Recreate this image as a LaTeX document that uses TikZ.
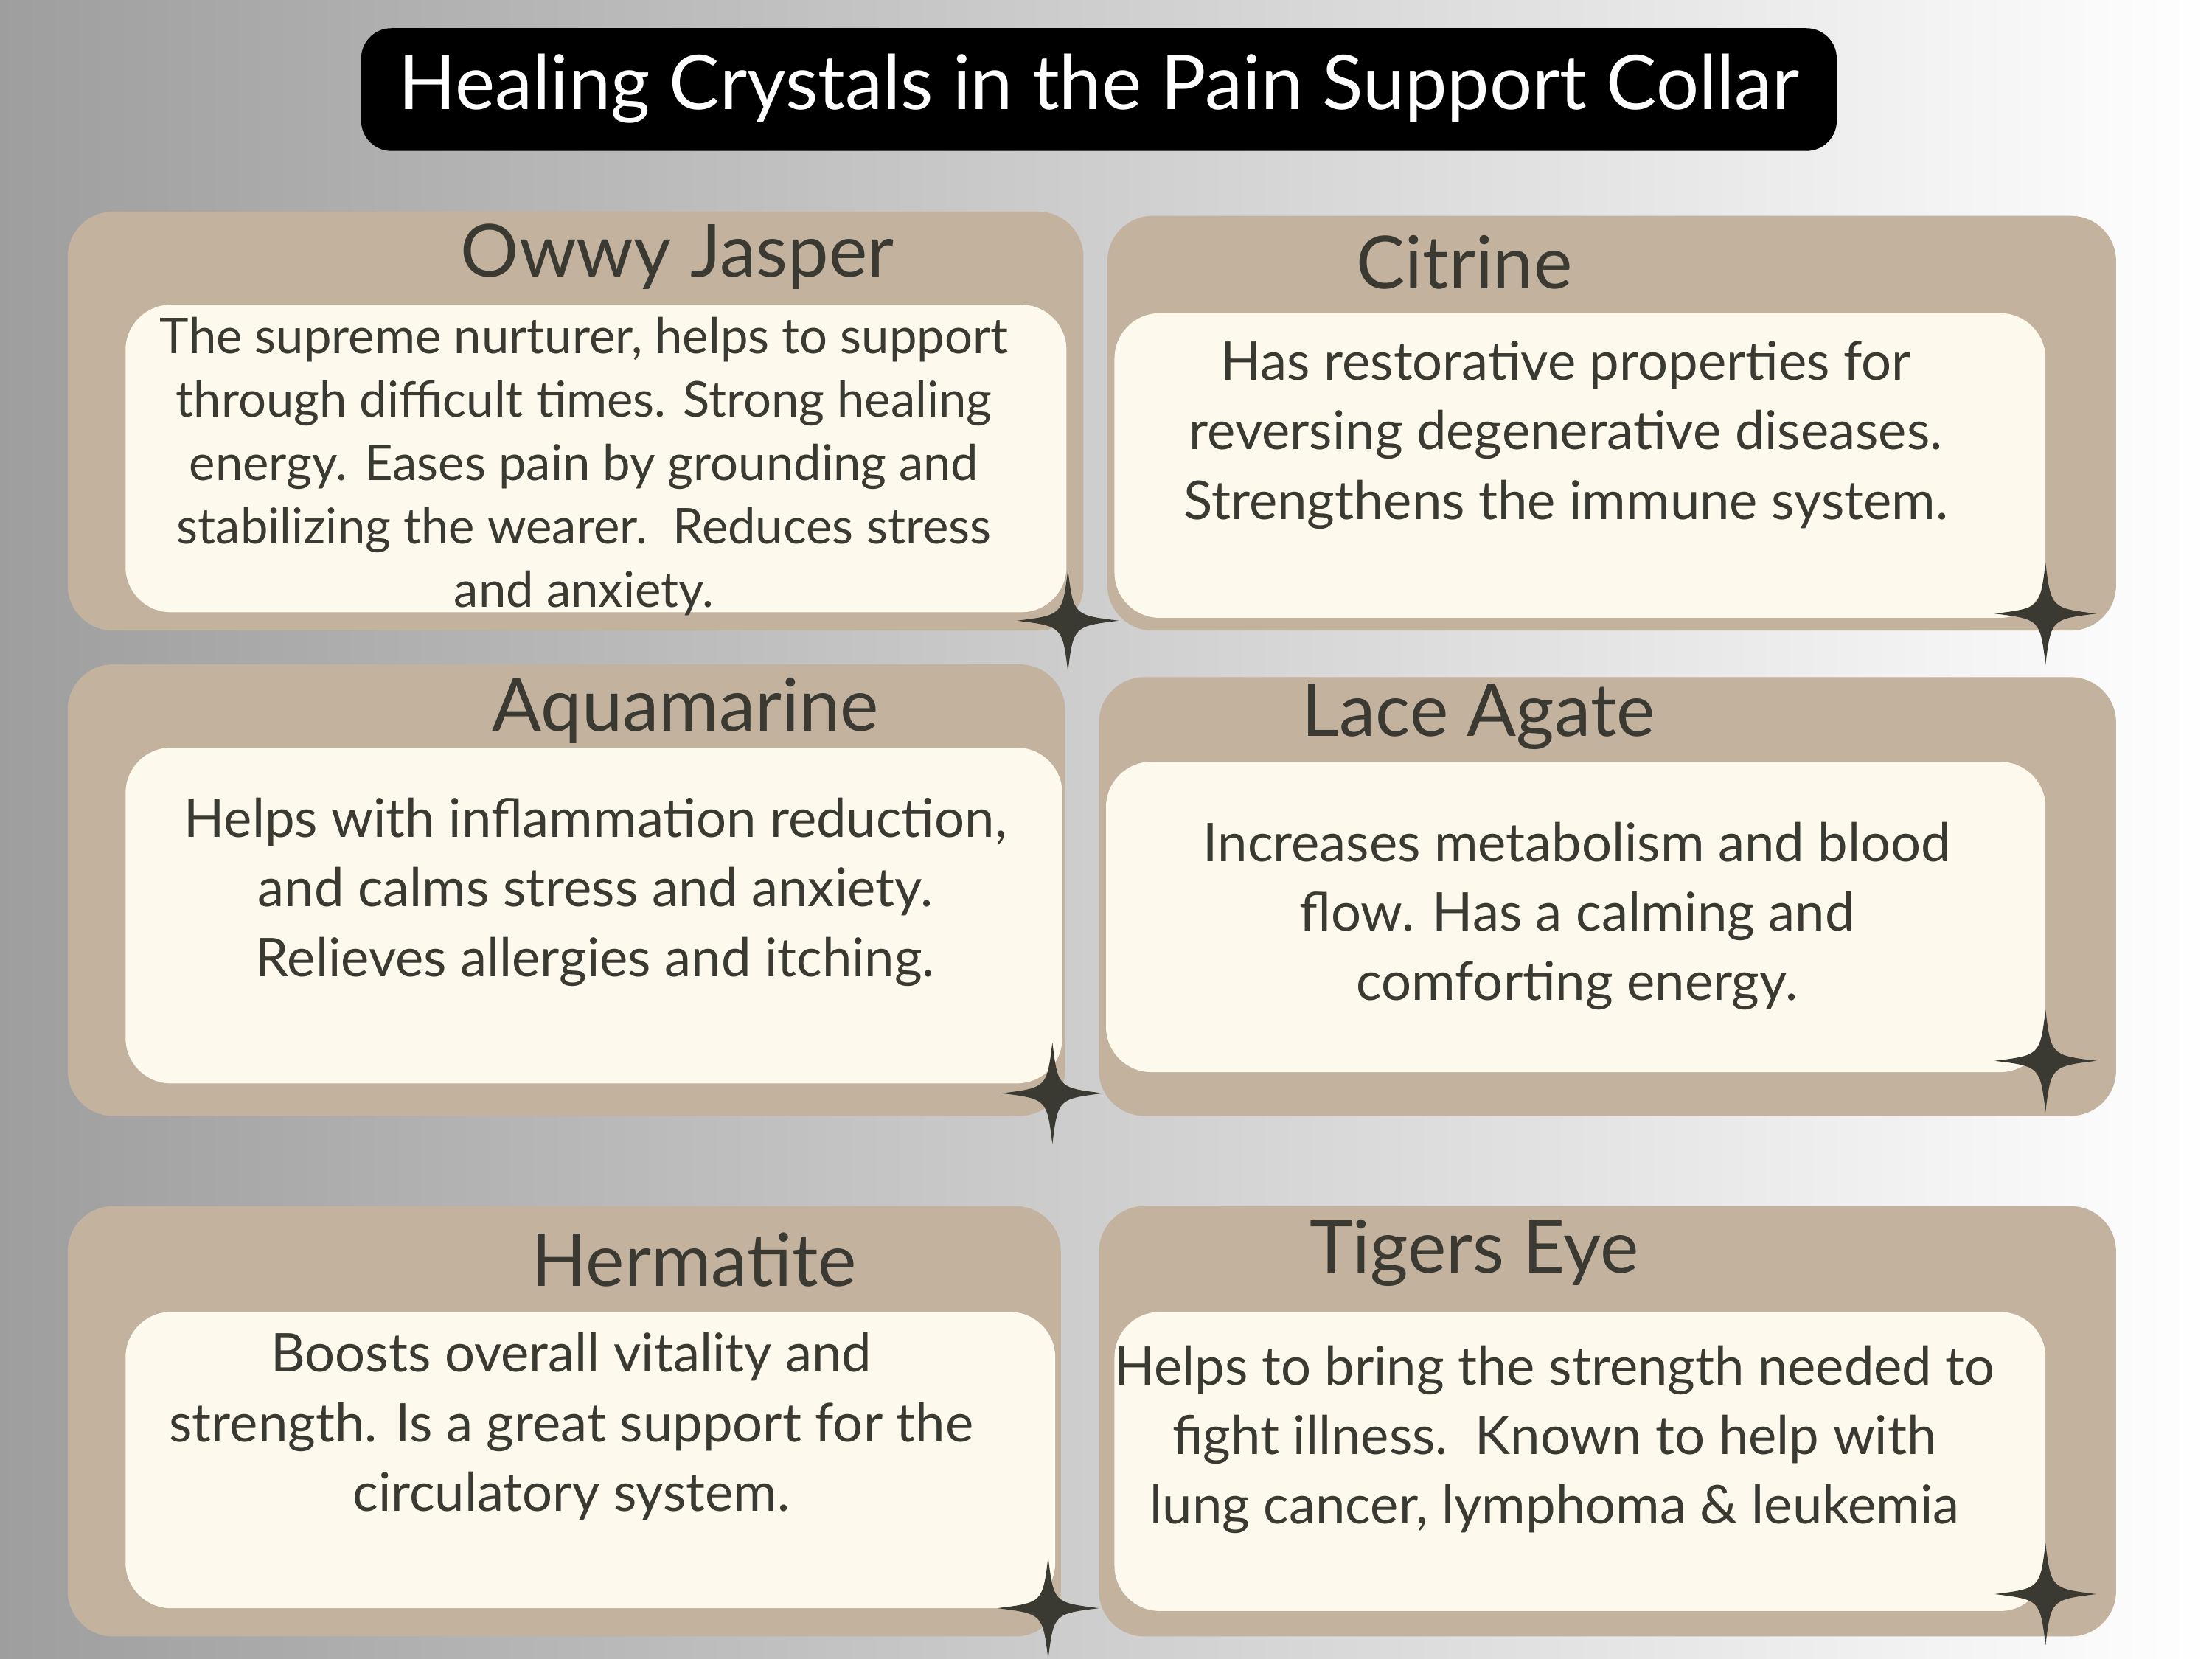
\documentclass[tikz,border=0pt]{standalone}
\usepackage{fontspec}
\setmainfont{Lato}
\usetikzlibrary{positioning}
\definecolor{tan}{HTML}{C2B29E}
\definecolor{cream}{HTML}{FDF9EC}
\definecolor{ink}{HTML}{3A3A32}
\tikzset{
  card/.style={fill=tan,rounded corners=9pt},
  inner/.style={fill=cream,rounded corners=9pt},
  head/.style={text=ink,font=\fontsize{14.5}{17}\selectfont},
  body/.style={text=ink,align=center,anchor=north,inner sep=0pt,
    font=\fontsize{10.6}{13.8}\selectfont},
  sparkle/.pic={\fill[ink] (0,36) .. controls (4,4) .. (36,0) .. controls (4,-4) .. (0,-36)
     .. controls (-4,-4) .. (-36,0) .. controls (-4,4) .. (0,36);}
}
\begin{document}
\begin{tikzpicture}[x=0.00984cm,y=-0.00984cm]
\useasboundingbox (0,0) rectangle (1568,1176);
\shade[left color=black!38,right color=white] (0,0) rectangle (1568,1176);
% title
\fill[black,rounded corners=6pt] (256,20) rectangle (1302,107);
\node[text=white,font=\fontsize{15}{18}\selectfont] (title) at (779,63) {Healing Crystals in the Pain Support Collar};
% cards
\fill[card] (48,150) rectangle (768,447);
\fill[inner] (89,216) rectangle (756,434);
\fill[card] (785,153) rectangle (1500,447);
\fill[inner] (790,222) rectangle (1450,438);
\fill[card] (48,471) rectangle (755,791);
\fill[inner] (89,530) rectangle (753,768);
\fill[card] (779,480) rectangle (1500,791);
\fill[inner] (784,540) rectangle (1450,760);
\fill[card] (48,855) rectangle (752,1160);
\fill[inner] (89,930) rectangle (748,1140);
\fill[card] (779,855) rectangle (1500,1160);
\fill[inner] (790,930) rectangle (1450,1142);
% headings
\node[head] (owwy) at (480,182) {Owwy Jasper};
\node[head] (citrine) at (1038,186) {Citrine};
\node[head] (aqua) at (486,504) {Aquamarine};
\node[head] (lace) at (1048,508) {Lace Agate};
\node[head] (herm) at (492,893) {Hermatite};
\node[head] (tiger) at (1045,888) {Tigers Eye};
% texts
\node[body,font=\fontsize{9.8}{12.6}\selectfont] (owwyt) at (414,224) {The supreme nurturer, helps to support\\through difficult times. Strong healing\\energy. Eases pain by grounding and\\stabilizing the wearer.\ \ Reduces stress\\and anxiety.};
\node[body] (citrinet) at (1110,241) {Has restorative properties for\\reversing degenerative diseases.\\Strengthens the immune system.};
\node[body] (aquat) at (422,565) {Helps with inflammation reduction,\\and calms stress and anxiety.\\Relieves allergies and itching.};
\node[body] (lacet) at (1118,582) {Increases metabolism and blood\\flow. Has a calming and\\comforting energy.};
\node[body] (hermt) at (405,944) {Boosts overall vitality and\\strength. Is a great support for the\\circulatory system.};
\node[body] (tigert) at (1102,953) {Helps to bring the strength needed to\\fight illness.\ \ Known to help with\\lung cancer, lymphoma \& leukemia};
% stars
\foreach \p in {(757,440),(1450,435),(746,775),(1450,752),(743,1140),(1450,1130)}
  \pic at \p {sparkle};
\end{tikzpicture}
\end{document}
